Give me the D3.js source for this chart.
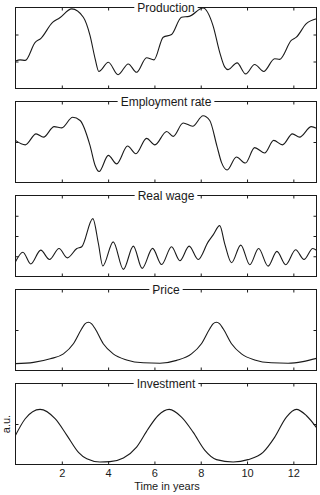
<!DOCTYPE html>
<html>
<head>
<meta charset="utf-8">
<script src="https://cdn.jsdelivr.net/npm/d3@7"></script>
<style>
  html, body { margin: 0; padding: 0; background: #fff; }
  svg { display: block; font-family: "Liberation Sans", Arial, sans-serif; }
</style>
</head>
<body>
<div id="chart"></div>
<script>
// time axis (years)
const timeDomain = [0, 13];
const xTicks = [2, 4, 6, 8, 10, 12];

// panel titles, y ranges (a.u.) and y tick positions
const titles = ['Production', 'Employment rate', 'Real wage', 'Price', 'Investment'];
const yMax = [3, 2, 4, 2, 2];
const yTicks = [[1, 2], [1], [1, 2, 3], [1], [1]];

// series: time in years, value in a.u.
const prodT = [0, 0.2, 0.42, 0.85, 1.1, 1.6, 1.9, 2.43, 2.93, 3.22, 3.44, 3.6, 4.01, 4.43, 4.87, 5.23, 5.66, 5.98, 6.38, 6.74, 7.17, 7.5, 8.1, 8.53, 8.82, 9.04, 9.18, 9.57, 9.94, 10.33, 10.72, 11.19, 11.41, 11.91, 12.13, 12.56, 13];
const prodV = [1.02, 1.06, 1.04, 1.71, 1.86, 2.45, 2.61, 2.95, 2.64, 1.96, 1.10, 0.63, 0.97, 0.51, 0.91, 0.60, 1.14, 1.06, 1.90, 2.00, 2.64, 2.67, 2.98, 2.33, 1.34, 0.79, 0.70, 0.95, 0.54, 0.89, 0.63, 1.10, 1.08, 1.78, 1.90, 2.40, 2.58];

const emplT = [0, 0.42, 0.89, 1.21, 1.67, 2.0, 2.47, 2.79, 3.22, 3.44, 3.61, 4.01, 4.37, 4.84, 5.20, 5.66, 6.02, 6.53, 6.81, 7.24, 7.65, 8.10, 8.39, 8.7, 8.9, 9.14, 9.54, 9.93, 10.33, 10.76, 11.15, 11.53, 11.96, 12.27, 12.78, 13];
const emplV = [1.04, 0.93, 1.20, 1.12, 1.38, 1.35, 1.61, 1.53, 0.91, 0.42, 0.27, 0.67, 0.46, 0.90, 0.71, 1.09, 0.93, 1.26, 1.14, 1.47, 1.39, 1.65, 1.53, 0.90, 0.49, 0.31, 0.63, 0.48, 0.86, 0.73, 1.04, 0.93, 1.20, 1.12, 1.38, 1.34];

const wageT = [0, 0.32, 0.66, 1.09, 1.47, 1.88, 2.24, 2.65, 2.86, 3.34, 3.58, 3.77, 4.22, 4.66, 5.09, 5.47, 5.92, 6.31, 6.74, 7.10, 7.50, 7.89, 8.32, 8.53, 8.82, 9.04, 9.33, 9.73, 10.12, 10.50, 10.91, 11.29, 11.67, 12.10, 12.46, 12.84, 13];
const wageV = [0.73, 1.20, 0.62, 1.30, 0.84, 1.38, 0.92, 1.38, 1.47, 2.86, 1.63, 0.52, 1.71, 0.35, 1.50, 0.40, 1.39, 0.59, 1.47, 0.78, 1.50, 0.84, 1.71, 2.04, 2.51, 1.60, 0.68, 1.55, 0.58, 1.38, 0.51, 1.24, 0.58, 1.32, 0.84, 1.38, 1.30];

const priceT = [0, 0.78, 1.50, 2.07, 2.50, 2.86, 3.0, 3.15, 3.29, 3.44, 3.79, 4.22, 4.80, 5.52, 6.24, 6.96, 7.60, 8.03, 8.39, 8.53, 8.68, 8.82, 8.97, 9.33, 9.76, 10.33, 11.05, 11.77, 12.41, 13];
const priceV = [0.17, 0.20, 0.29, 0.41, 0.66, 1.03, 1.15, 1.19, 1.15, 1.03, 0.66, 0.41, 0.26, 0.19, 0.18, 0.25, 0.41, 0.66, 1.03, 1.15, 1.19, 1.15, 1.03, 0.66, 0.41, 0.26, 0.19, 0.18, 0.22, 0.30];

const invT = [0, 0.42, 1.06, 1.71, 2.22, 2.72, 3.08, 3.65, 4.08, 4.66, 5.23, 5.73, 6.16, 6.64, 7.17, 7.67, 8.18, 8.68, 9.40, 10.04, 10.69, 11.19, 11.70, 12.13, 12.56, 13];
const invV = [0.72, 1.13, 1.36, 1.13, 0.72, 0.30, 0.14, 0.06, 0.07, 0.16, 0.43, 0.88, 1.21, 1.36, 1.17, 0.80, 0.35, 0.12, 0.06, 0.12, 0.30, 0.67, 1.17, 1.36, 1.21, 0.91];

const seriesT = [prodT, emplT, wageT, priceT, invT];
const seriesV = [prodV, emplV, wageV, priceV, invV];

const width = 320, height = 495;
const left = 15.5, right = 316.5;
const firstTop = 7.5, panelH = 81, panelStep = 94;
const ink = '#1a1a1a';

const svg = d3.select('#chart').append('svg')
  .attr('width', width)
  .attr('height', height);

const x = d3.scaleLinear().domain(timeDomain).range([left, right]);

titles.forEach((title, i) => {
  const top = firstTop + i * panelStep;
  const bottom = top + panelH;
  const y = d3.scaleLinear().domain([0, yMax[i]]).range([bottom, top]);
  const last = i === titles.length - 1;

  const g = svg.append('g').attr('class', 'panel');

  // curve
  const pts = seriesT[i].map((t, j) => [t, seriesV[i][j]]);
  const line = d3.line()
    .x(d => x(d[0]))
    .y(d => y(d[1]))
    .curve(d3.curveMonotoneX);

  g.append('path')
    .datum(pts)
    .attr('d', line)
    .attr('fill', 'none')
    .attr('stroke', ink)
    .attr('stroke-width', 1.1);

  // inward ticks on all four sides
  const bottomAxis = g.append('g')
    .attr('transform', `translate(0,${bottom})`)
    .call(d3.axisBottom(x).tickValues(xTicks).tickSize(-3).tickPadding(4.5)
      .tickFormat(last ? d3.format('d') : ''));
  g.append('g')
    .attr('transform', `translate(0,${top})`)
    .call(d3.axisTop(x).tickValues(xTicks).tickSize(-3).tickFormat(''));
  g.append('g')
    .attr('transform', `translate(${left},0)`)
    .call(d3.axisLeft(y).tickValues(yTicks[i]).tickSize(-3).tickFormat(''));
  g.append('g')
    .attr('transform', `translate(${right},0)`)
    .call(d3.axisRight(y).tickValues(yTicks[i]).tickSize(-3).tickFormat(''));

  g.selectAll('.domain').remove();
  g.selectAll('.tick line').attr('stroke', ink);
  bottomAxis.selectAll('text')
    .attr('fill', ink)
    .style('font-size', '11px')
    .style('font-family', '"Liberation Sans", Arial, sans-serif');

  // box
  g.append('rect')
    .attr('x', left)
    .attr('y', top)
    .attr('width', right - left)
    .attr('height', panelH)
    .attr('fill', 'none')
    .attr('stroke', ink)
    .attr('stroke-width', 1);

  // title sitting on the top border
  const bg = g.append('rect').attr('fill', '#fff');
  const label = g.append('text')
    .attr('x', (left + right) / 2)
    .attr('y', top + 4.3)
    .attr('text-anchor', 'middle')
    .style('font-size', '12px')
    .attr('fill', ink)
    .text(title);
  const w = label.node().getComputedTextLength();
  bg.attr('x', (left + right) / 2 - w / 2 - 3)
    .attr('y', top - 2)
    .attr('width', w + 6)
    .attr('height', 4);
});

// x label
svg.append('text')
  .attr('x', (left + right) / 2 + 1)
  .attr('y', 489.5)
  .attr('text-anchor', 'middle')
  .style('font-size', '11px')
  .attr('fill', ink)
  .text('Time in years');

// y label
svg.append('text')
  .attr('transform', `translate(10,${firstTop + 4 * panelStep + panelH / 2})rotate(-90)`)
  .attr('text-anchor', 'middle')
  .style('font-size', '11px')
  .attr('fill', ink)
  .text('a.u.');
</script>
</body>
</html>
